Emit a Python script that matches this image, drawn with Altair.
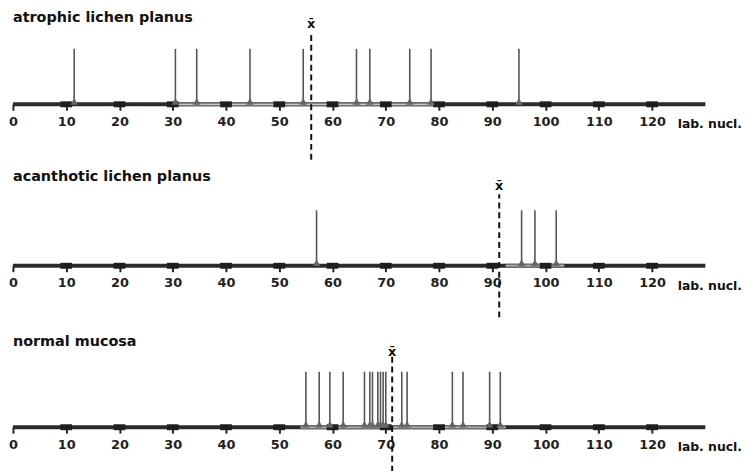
import altair as alt
import pandas as pd

# ---- data ----
titles = ["atrophic lichen planus", "acanthotic lichen planus", "normal mucosa"]
atrophic = [11.5, 30.5, 34.5, 44.5, 54.5, 64.5, 67.0, 74.5, 78.5, 95.0]
acanthotic = [57.0, 95.5, 98.0, 102.0]
normal = [55.0, 57.5, 59.5, 62.0, 66.0, 67.0, 67.5, 68.5, 69.0, 69.5, 70.0,
          73.0, 74.0, 82.5, 84.5, 89.5, 91.5]
means = [56.0, 91.3, 71.2]
tick_values = list(range(0, 121, 10))
unit_label = "lab. nucl."
# lighter stretch of the scale bar, per panel
span_lo = [30.0, 92.5, 54.0]
span_hi = [80.0, 103.5, 92.5]

# vertical extents (in spike-height units) of the mean marker per panel
mean_top = [1.31, 1.29, 1.27]
mean_bottom = [-1.0, -0.93, -0.80]
xbar_y = [1.44, 1.44, 1.36]
title_y = [1.55, 1.60, 1.53]

FONT = "DejaVu Sans"
W, H = 699, 56
XS = alt.Scale(domain=[0, 130], nice=False, zero=False)
YS = alt.Scale(domain=[0, 1], nice=False, zero=False)


def panel(i, values):
    axis = alt.Axis(values=tick_values, domain=False, grid=False, tickSize=6,
                    tickWidth=2, tickColor="#222", labelFont=FONT,
                    labelFontSize=13, labelFontWeight="bold", labelColor="#222",
                    labelPadding=5, labelFlush=False, title=None, format="d")
    bar = alt.Chart(pd.DataFrame({"x": [0], "x2": [130], "y": [0]})).mark_rule(
        strokeWidth=4, color="#2b2b2b").encode(
        x=alt.X("x:Q", scale=XS, axis=axis), x2="x2:Q",
        y=alt.Y("y:Q", scale=YS, axis=None))
    span_df = pd.DataFrame({"a": [span_lo[i]], "b": [span_hi[i]], "y": [0]})
    span = alt.Chart(span_df).mark_rule(strokeWidth=4, color="#6e6e6e").encode(
        x=alt.X("a:Q", scale=XS), x2="b:Q", y=alt.Y("y:Q", scale=YS))
    span_in = alt.Chart(span_df).mark_rule(strokeWidth=1.2, color="#c8c8c8").encode(
        x=alt.X("a:Q", scale=XS), x2="b:Q", y=alt.Y("y:Q", scale=YS))
    tdf = pd.DataFrame({"t": tick_values[1:]})
    tdf["a"] = tdf["t"] - 1.1
    tdf["b"] = tdf["t"] + 1.1
    tdf["y"] = 0
    squares = alt.Chart(tdf).mark_rule(strokeWidth=6, color="#1e1e1e").encode(
        x=alt.X("a:Q", scale=XS), x2="b:Q", y=alt.Y("y:Q", scale=YS))
    sdf = pd.DataFrame({"x": values, "y0": 0.0, "y1": 1.0})
    spikes = alt.Chart(sdf).mark_rule(strokeWidth=1.6, color="#555").encode(
        x=alt.X("x:Q", scale=XS), y=alt.Y("y0:Q", scale=YS), y2="y1:Q")
    feet = alt.Chart(sdf).mark_point(shape="triangle-up", filled=True, size=60,
                                     color="#666", opacity=1, yOffset=-3).encode(
        x=alt.X("x:Q", scale=XS), y=alt.Y("y0:Q", scale=YS))
    mdf = pd.DataFrame({"x": [means[i]], "y0": [mean_bottom[i]], "y1": [mean_top[i]],
                        "yt": [xbar_y[i]], "lab": ["x\u0304"]})
    mean_line = alt.Chart(mdf).mark_rule(strokeWidth=2, color="#111",
                                         strokeDash=[6, 4]).encode(
        x=alt.X("x:Q", scale=XS), y=alt.Y("y0:Q", scale=YS), y2="y1:Q")
    xbar = alt.Chart(mdf).mark_text(font=FONT, fontSize=13, fontWeight="bold",
                                    color="#111", baseline="middle").encode(
        x=alt.X("x:Q", scale=XS), y=alt.Y("yt:Q", scale=YS), text="lab:N")
    tl = pd.DataFrame({"x": [0], "y": [title_y[i]], "t": [titles[i]]})
    title = alt.Chart(tl).mark_text(font=FONT, fontSize=14.5, fontWeight="bold",
                                    color="#111", align="left",
                                    baseline="middle").encode(
        x=alt.X("x:Q", scale=XS), y=alt.Y("y:Q", scale=YS), text="t:N")
    ul = pd.DataFrame({"x": [124.8], "y": [-0.36], "t": [unit_label]})
    unit = alt.Chart(ul).mark_text(font=FONT, fontSize=12.5, fontWeight="bold",
                                   color="#111", align="left",
                                   baseline="middle").encode(
        x=alt.X("x:Q", scale=XS), y=alt.Y("y:Q", scale=YS), text="t:N")
    return alt.layer(bar, span, span_in, squares, spikes, feet, mean_line, xbar,
                     title, unit).properties(width=W, height=H)


chart = alt.vconcat(panel(0, atrophic), panel(1, acanthotic), panel(2, normal),
                    spacing=107, bounds="flush").properties(
    padding={"left": 0, "top": 0, "right": 0, "bottom": 0},
    background="white").configure_view(stroke=None)

chart.save("out.html", embed_options={"renderer": "svg", "actions": False})
